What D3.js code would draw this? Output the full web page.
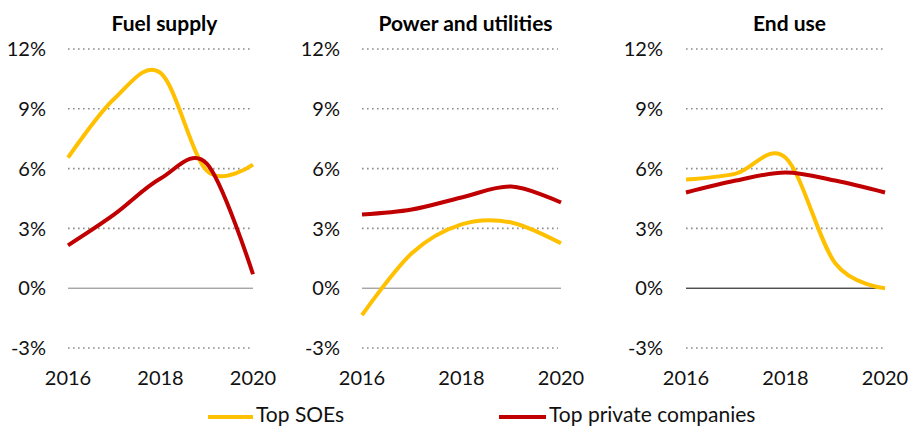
<!DOCTYPE html>
<html>
<head>
<meta charset="utf-8">
<script src="https://cdn.jsdelivr.net/npm/d3@7"></script>
<style>
  body { margin: 0; background: #fff; }
  svg { font-family: Lato, "Open Sans", sans-serif; }
</style>
</head>
<body>
<svg id="chart" width="908" height="427"></svg>
<script>
// valores (porcentajes)
const years = [2016, 2017, 2018, 2019, 2020]
const sectors = ["Fuel supply", "Power and utilities", "End use"]
const seriesNames = ["Top SOEs", "Top private companies"]
const yTicks = [-3, 0, 3, 6, 9, 12]
const xTicks = [2016, 2018, 2020]

const soes = [
  [6.55, 9.5, 10.8, 5.9, 6.2],
  [-1.35, 1.75, 3.2, 3.3, 2.25],
  [5.45, 5.75, 6.55, 1.25, 0.0]
]
const privados = [
  [2.15, 3.7, 5.5, 6.25, 0.7],
  [3.7, 3.95, 4.55, 5.1, 4.3],
  [4.8, 5.4, 5.8, 5.4, 4.8]
]

const colors = ["#FFC000", "#C00000"]

// posición de cada panel
const panels = [
  { x0: 68, x1: 253, gridEnd: 250, labelX: 46, zero: "#808080" },
  { x0: 362, x1: 561, gridEnd: 558, labelX: 340, zero: "#808080" },
  { x0: 686, x1: 885, gridEnd: 883, labelX: 663, zero: "#000" }
]

const svg = d3.select('#chart')
const y = d3.scaleLinear().domain([-3, 12]).range([348, 49])

const line = d3.line()
  .curve(d3.curveCardinal.tension(0))

panels.forEach((p, i) => {
  const x = d3.scaleLinear().domain([2016, 2020]).range([p.x0, p.x1])
  const g = svg.append('g')

  // título
  g.append('text')
    .attr('x', (p.x0 + p.x1) / 2 + 4)
    .attr('y', 31)
    .attr('text-anchor', 'middle')
    .attr('font-weight', 'bold')
    .attr('font-size', 21)
    .text(sectors[i])

  // líneas de grilla
  g.selectAll('line.grid')
    .data(yTicks.filter(d => d !== 0))
    .join('line')
    .attr('x1', p.x0).attr('x2', p.gridEnd)
    .attr('y1', d => y(d)).attr('y2', d => y(d))
    .attr('stroke', '#8c8c8c')
    .attr('stroke-width', 1.6)
    .attr('stroke-dasharray', '1.6,3.4')

  g.append('line')
    .attr('x1', p.x0).attr('x2', p.x1)
    .attr('y1', y(0)).attr('y2', y(0))
    .attr('stroke', p.zero)
    .attr('stroke-width', 1)

  // etiquetas eje y
  g.selectAll('text.ylab')
    .data(yTicks)
    .join('text')
    .attr('x', p.labelX)
    .attr('y', d => y(d))
    .attr('dy', '0.36em')
    .attr('text-anchor', 'end')
    .attr('font-size', 20)
    .attr('fill', '#111')
    .text(d => d + '%')

  // etiquetas eje x
  g.selectAll('text.xlab')
    .data(xTicks)
    .join('text')
    .attr('x', d => x(d))
    .attr('y', 385)
    .attr('text-anchor', 'middle')
    .attr('font-size', 20)
    .attr('fill', '#111')
    .text(d => d)

  // series
  const data = [soes[i], privados[i]]
  data.forEach((vals, k) => {
    g.append('path')
      .attr('d', line(vals.map((v, j) => [x(years[j]), y(v)])))
      .attr('fill', 'none')
      .attr('stroke', colors[k])
      .attr('stroke-width', 4)
  })
})

// leyenda
const legend = [
  { x: 208, w: 45 },
  { x: 499, w: 47 }
]
legend.forEach((l, k) => {
  svg.append('line')
    .attr('x1', l.x).attr('x2', l.x + l.w)
    .attr('y1', 417).attr('y2', 417)
    .attr('stroke', colors[k])
    .attr('stroke-width', 4)
  svg.append('text')
    .attr('x', l.x + l.w + 3)
    .attr('y', 422)
    .attr('font-size', 21)
    .attr('fill', '#111')
    .text(seriesNames[k])
})
</script>
</body>
</html>
